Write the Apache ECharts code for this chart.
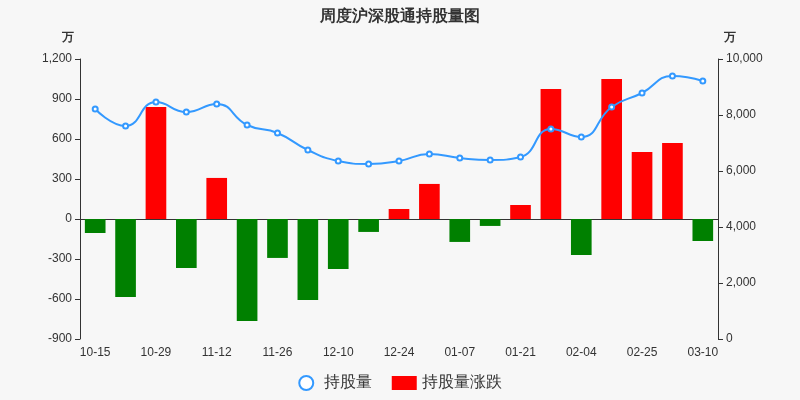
<!DOCTYPE html>
<html lang="zh" style="height: 100%">
<head>
<meta charset="utf-8">
<title>周度沪深股通持股量图</title>
</head>
<body style="height: 100%; margin: 0; background: #f7f7f7">
<div id="container" style="height: 100%"></div>
<script type="text/javascript" src="https://cdn.jsdelivr.net/npm/echarts/dist/echarts.min.js"></script>
<script type="text/javascript">
var dom = document.getElementById('container');
var myChart = echarts.init(dom, null, { renderer: 'canvas' });

// weekly dates
var dates = ['10-15', '10-22', '10-29', '11-05', '11-12', '11-19', '11-26', '12-03', '12-10', '12-17',
    '12-24', '12-31', '01-07', '01-14', '01-21', '01-28', '02-04', '02-18', '02-25', '03-03', '03-10'];
// holdings (万股), right axis
var holding = [8214, 7607, 8464, 8107, 8393, 7643, 7357, 6750, 6357, 6250,
    6357, 6607, 6464, 6393, 6500, 7500, 7214, 8286, 8786, 9393, 9214];
// weekly change (万股), left axis
var change = [-105, -585, 840, -367, 308, -765, -292, -607, -375, -97,
    75, 263, -172, -52, 105, 975, -270, 1050, 503, 570, -165];

var option = {
    backgroundColor: '#f7f7f7',
    title: {
        text: '周度沪深股通持股量图',
        left: 'center',
        top: 4,
        textStyle: { fontSize: 16, fontWeight: 'bold', color: '#333' }
    },
    legend: {
        bottom: 4,
        itemGap: 20,
        textStyle: { fontSize: 16, color: '#333' },
        data: [
            { name: '持股量', icon: 'emptyCircle' },
            { name: '持股量涨跌', icon: 'rect' }
        ]
    },
    grid: { left: 80, right: 82, top: 59, bottom: 61 },
    xAxis: {
        type: 'category',
        data: dates,
        axisTick: { show: false },
        axisLine: { lineStyle: { color: '#333' } },
        axisLabel: { interval: 1, color: '#333', fontSize: 12 }
    },
    yAxis: [
        {
            type: 'value',
            name: '万',
            nameTextStyle: { color: '#333', fontWeight: 'bold', align: 'right', padding: [0, 6, 0, 0] },
            min: -900, max: 1200, interval: 300,
            splitLine: { show: false },
            axisLine: { show: true, lineStyle: { color: '#333' } },
            axisTick: { show: true },
            axisLabel: { color: '#333', formatter: function (v) { return v.toLocaleString('en-US'); } }
        },
        {
            type: 'value',
            name: '万',
            nameTextStyle: { color: '#333', fontWeight: 'bold', align: 'left', padding: [0, 0, 0, 6] },
            min: 0, max: 10000, interval: 2000,
            splitLine: { show: false },
            axisLine: { show: true, lineStyle: { color: '#333' } },
            axisTick: { show: true },
            axisLabel: { color: '#333', formatter: function (v) { return v.toLocaleString('en-US'); } }
        }
    ],
    series: [
        {
            name: '持股量',
            type: 'line',
            yAxisIndex: 1,
            smooth: true,
            symbol: 'emptyCircle',
            symbolSize: 5,
            data: holding,
            itemStyle: { color: '#3399ff' },
            lineStyle: { color: '#3399ff', width: 2 },
            z: 3
        },
        {
            name: '持股量涨跌',
            type: 'bar',
            yAxisIndex: 0,
            barWidth: '68%',
            data: change.map(function (v) {
                return { value: v, itemStyle: { color: v >= 0 ? '#ff0000' : '#008000' } };
            }),
            itemStyle: { color: '#ff0000' }
        }
    ]
};
myChart.setOption(option);
window.addEventListener('resize', myChart.resize);
</script>
</body>
</html>
